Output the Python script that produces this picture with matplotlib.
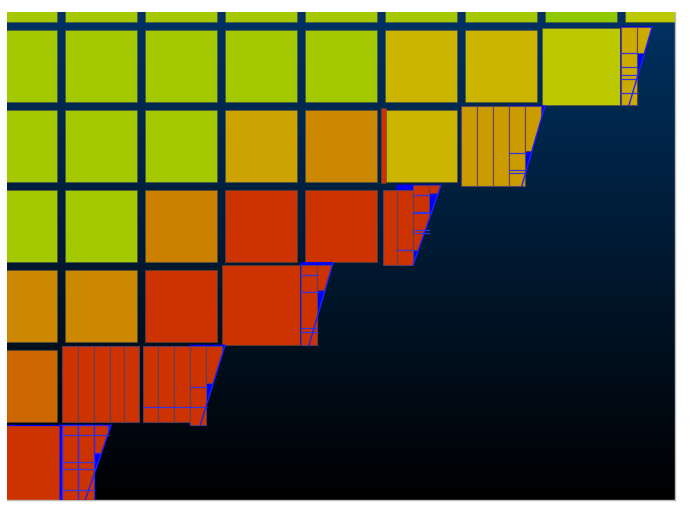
import numpy as np
import matplotlib
matplotlib.use('Agg')
import matplotlib.pyplot as plt
from matplotlib.patches import Rectangle, Polygon
from matplotlib.colors import LinearSegmentedColormap

nan = np.nan

# coarse cell values, rows top -> bottom (nan = refined or outside the domain)
tile_vals = np.array([
    [0.85, 0.85, 0.85, 0.85, 0.85, 0.85, 0.85, 0.97, 0.67],
    [0.85, 0.85, 0.85, 0.85, 0.85, 0.50, 0.50, nan, nan],
    [0.85, 0.85, 0.85, 0.43, 0.33, 0.50, nan, nan, nan],
    [0.85, 0.85, 0.30, 0.00, 0.00, nan, nan, nan, nan],
    [0.33, 0.33, 0.00, nan, nan, nan, nan, nan, nan],
    [0.20, nan, nan, nan, nan, nan, nan, nan, nan],
    [nan, nan, nan, nan, nan, nan, nan, nan, nan],
])

# merged (enlarged) cells near the front: x0, x1, y0, y1, value
merged_x0 = [6.96, 2.96, 0.00, 4.95]
merged_x1 = [7.94, 3.94, 0.94, 5.01]
merged_y0 = [0.975, 3.94, 5.94, 1.98]
merged_y1 = [1.94, 4.94, 6.94, 2.91]
merged_val = [0.67, 0.00, 0.00, 0.00]

# refined strips along the front, one group per band
strip_groups = [
    dict(val=0.46, edges=[7.95, 8.15, 8.35], tops=[0.96, 0.96], bots=[1.94, 1.29],
         splits={0: [1.29, 1.46, 1.56, 1.61, 1.79]}, band=(0.96, 1.94),
         front=(8.34, 8.05), blue_from=7.95),
    dict(val=0.40, edges=[5.95, 6.15, 6.35, 6.55, 6.75, 6.95], tops=[1.95] * 5,
         bots=[2.95, 2.95, 2.95, 2.95, 2.51], splits={3: [2.54, 2.75, 2.79]},
         band=(1.95, 2.95), front=(7.00, 6.71), blue_from=6.55),
    dict(val=0.00, edges=[4.97, 5.15, 5.35, 5.55, 5.73], tops=[3.0, 3.0, 2.94, 2.94],
         bots=[3.94, 3.94, 3.75, 3.04], splits={1: [3.75], 2: [3.06, 3.28, 3.29, 3.5, 3.54]},
         band=(2.94, 3.94), front=(5.70, 5.35), blue_from=5.15),
    dict(val=0.00, edges=[3.95, 4.15, 4.35], tops=[3.94, 3.94], bots=[4.94, 4.25],
         splits={0: [4.06, 4.275, 4.725, 4.775]}, band=(3.91, 4.94),
         front=(4.35, 4.05), blue_from=3.95),
    dict(val=0.00, edges=[0.96, 1.16, 1.36, 1.56, 1.74, 1.93], tops=[4.95] * 5,
         bots=[5.9] * 5, splits={}, band=None, front=None, blue_from=None),
    dict(val=0.00, edges=[1.97, 2.16, 2.36, 2.56, 2.76, 2.96], tops=[4.95] * 5,
         bots=[5.9, 5.9, 5.9, 5.94, 5.41], splits={0: [5.71], 1: [5.71], 2: [5.71], 3: [5.46, 5.71]},
         band=(4.94, 5.94), front=(3.00, 2.69), blue_from=2.56),
    dict(val=0.00, edges=[0.96, 1.16, 1.36, 1.54], tops=[5.94] * 3,
         bots=[6.94, 6.94, 6.29], splits={0: [6.06, 6.4, 6.49, 6.75], 1: [6.06, 6.4, 6.49, 6.75], 2: [6.06]},
         band=(5.94, 6.94), front=(1.575, 1.23), blue_from=0.94),
]

cmap = LinearSegmentedColormap.from_list('front', [
    (0.00, '#cc3300'), (0.15, '#cc5a00'), (0.33, '#cc8800'), (0.50, '#ccb500'),
    (0.67, '#bcc900'), (0.85, '#a4c900'), (1.00, '#8ac800')])
bg_cmap = LinearSegmentedColormap.from_list('bg', ['#003262', '#000000'])

fig = plt.figure(figsize=(6.91, 5.11), dpi=100)
ax = fig.add_axes([7 / 691, 11 / 511, 668 / 691, 488 / 511])
xlim = (0.275, 8.625)
ylim = (6.875, 0.775)

# background gradient
ax.imshow(np.linspace(0, 1, 256)[:, None], cmap=bg_cmap, aspect='auto',
          extent=[xlim[0], xlim[1], ylim[0], ylim[1]], zorder=0)

tile_edge = (0.3, 0.3, 0.3, 0.55)

# coarse grid
for i in range(tile_vals.shape[0]):
    for j in range(tile_vals.shape[1]):
        v = tile_vals[i, j]
        if np.isnan(v):
            continue
        ax.add_patch(Rectangle((j, i), 0.9, 0.9, facecolor=cmap(v),
                               edgecolor=tile_edge, lw=0.7, zorder=2))

# merged cells
for k in range(len(merged_val)):
    ec = 'blue' if k == 2 else tile_edge
    ax.add_patch(Rectangle((merged_x0[k], merged_y0[k]), merged_x1[k] - merged_x0[k],
                           merged_y1[k] - merged_y0[k], facecolor=cmap(merged_val[k]),
                           edgecolor=ec, lw=0.9 if k == 2 else 0.7, zorder=2))

# refined strips + blue wedge in front of them
for g in strip_groups:
    clip = None
    if g['front'] is not None:
        yt, yb = g['band']
        xt, xb = g['front']
        clip = Polygon([(g['blue_from'], yt), (xt, yt), (xb, yb), (g['blue_from'], yb)],
                       closed=True, facecolor='#0000ff', edgecolor='#0000ff', lw=0.8, zorder=3)
        ax.add_patch(clip)
        ax.plot([xt, xb], [yt, yb], color='#2020ff', lw=1.0, zorder=6)
    last = g is strip_groups[-1]
    for s in range(len(g['edges']) - 1):
        x0, x1 = g['edges'][s], g['edges'][s + 1]
        y0, y1 = g['tops'][s], g['bots'][s]
        ec = '#2a2aff' if last else (0.35, 0.25, 0.4, 0.85)
        r = Rectangle((x0, y0), x1 - x0, y1 - y0, facecolor=cmap(g['val']),
                      edgecolor=ec, lw=0.9 if last else 0.8, zorder=4)
        ax.add_patch(r)
        if clip is not None and g['band'][1] - y1 > 0.1:
            r.set_clip_path(clip)
        for ys in g['splits'].get(s, []):
            ax.plot([x0, x1], [ys, ys], color='#3535e0', lw=0.9, zorder=5)

ax.set_xlim(*xlim)
ax.set_ylim(*ylim)
ax.set_xticks([])
ax.set_yticks([])
for side in ['top', 'left']:
    ax.spines[side].set_visible(False)
for side in ['right', 'bottom']:
    ax.spines[side].set_color('#bbbbbb')
    ax.spines[side].set_linewidth(1.0)

fig.savefig('out.png', dpi=100)
